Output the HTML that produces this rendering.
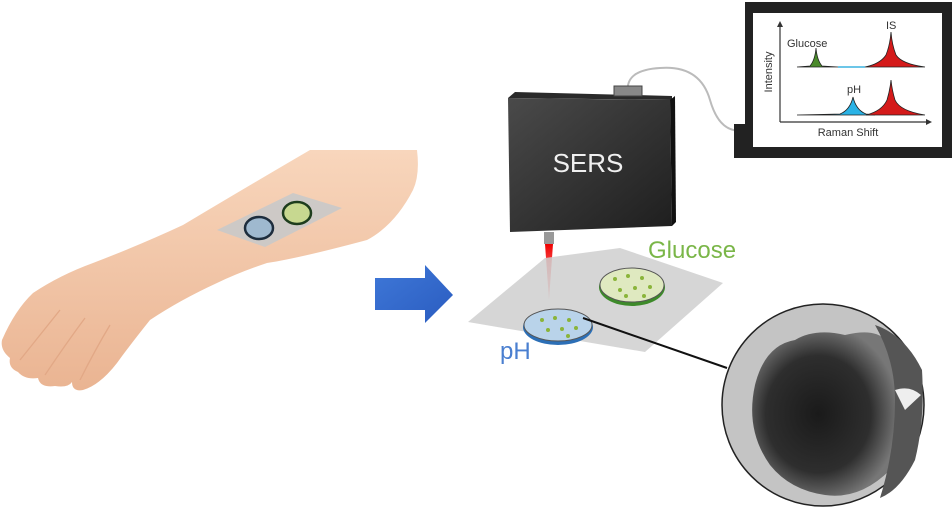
<!DOCTYPE html>
<html><head><style>
html,body{margin:0;padding:0;background:#fff;}
svg{display:block;font-family:"Liberation Sans",Arial,sans-serif;}
</style></head><body>
<svg width="952" height="509" viewBox="0 0 952 509" xmlns="http://www.w3.org/2000/svg">
<defs>
<linearGradient id="skin" x1="0" y1="0" x2="0" y2="1">
<stop offset="0" stop-color="#f8d6bc"/><stop offset="1" stop-color="#eab492"/></linearGradient>
<linearGradient id="box" x1="0" y1="0" x2="1" y2="1">
<stop offset="0" stop-color="#4a4a4a"/><stop offset="1" stop-color="#1e1e1e"/></linearGradient>
<linearGradient id="beam" x1="0" y1="0" x2="0" y2="1">
<stop offset="0" stop-color="#e00"/><stop offset="1" stop-color="#f66" stop-opacity="0.6"/></linearGradient>
<radialGradient id="tem" cx="0.45" cy="0.5" r="0.55">
<stop offset="0" stop-color="#1a1a1a"/><stop offset="0.65" stop-color="#2e2e2e"/><stop offset="1" stop-color="#777"/></radialGradient>
<linearGradient id="arrow" x1="0" y1="0" x2="1" y2="1">
<stop offset="0" stop-color="#3f78d8"/><stop offset="1" stop-color="#2a5cc0"/></linearGradient>
</defs>

<!-- arm -->
<path d="M310,150 L417,150 Q420,175 413,190 Q395,225 367,240 Q300,258 267,263 Q240,272 217,283 Q180,300 150,320 Q130,345 117,363 Q100,385 83,390 Q72,392 72,382 Q68,388 55,386 Q40,388 38,378 Q25,380 18,372 Q8,368 10,358 Q0,350 2,340 Q15,310 33,293 Q60,275 93,263 Q140,245 183,225 Q250,185 310,150 Z" fill="url(#skin)"/>
<path d="M110,325 Q95,350 80,380" stroke="#e2a886" fill="none" stroke-width="1.3"/>
<path d="M85,318 Q65,345 45,375" stroke="#e2a886" fill="none" stroke-width="1.3"/>
<path d="M60,310 Q40,335 20,360" stroke="#e2a886" fill="none" stroke-width="1.3"/>
<!-- patch -->
<polygon points="217,230 293,193 342,208 265,247" fill="#c9c9c9" opacity="0.9"/>
<ellipse cx="259" cy="228" rx="14" ry="11" fill="#9fb9cf" stroke="#1d2d3d" stroke-width="2.5"/>
<ellipse cx="297" cy="213" rx="14" ry="11" fill="#c7d890" stroke="#1d3d1d" stroke-width="2.5"/>

<!-- blue arrow -->
<polygon points="375,278 425,278 425,265 453,295 425,323 425,310 375,310" fill="url(#arrow)"/>

<!-- cable -->
<path d="M628,92 Q625,70 660,68 Q700,65 710,100 Q720,135 745,130" stroke="#bbb" stroke-width="2" fill="none"/>

<!-- SERS box -->
<polygon points="508,98 515,92 672,96 672,100" fill="#2a2a2a"/>
<rect x="614" y="86" width="28" height="10" fill="#888" stroke="#444"/>
<polygon points="508,98 670,100 672,226 510,232" fill="url(#box)"/>
<polygon points="670,100 675,96 676,222 672,226" fill="#111"/>
<text x="588" y="172" font-size="26" fill="#f0f0f0" text-anchor="middle">SERS</text>
<rect x="544" y="232" width="10" height="12" fill="#999"/>
<polygon points="545,244 553,244 549,300" fill="url(#beam)"/>

<!-- substrate -->
<polygon points="545,258 620,248 723,283 645,352 468,322" fill="#cfcfcf" opacity="0.85"/>
<ellipse cx="632" cy="287" rx="33" ry="19" fill="#3d8a2a"/>
<ellipse cx="632" cy="285" rx="32" ry="17" fill="#dfe9c0" stroke="#555" stroke-width="1"/>
<ellipse cx="558" cy="327" rx="35" ry="18" fill="#2c6fb6"/>
<ellipse cx="558" cy="325" rx="34" ry="16" fill="#b9d3ea" stroke="#555" stroke-width="1"/>
<g fill="#8ab43a">
<circle cx="615" cy="279" r="2"/><circle cx="628" cy="276" r="2"/><circle cx="642" cy="278" r="2"/><circle cx="620" cy="290" r="2"/><circle cx="635" cy="288" r="2"/><circle cx="650" cy="287" r="2"/><circle cx="626" cy="296" r="2"/><circle cx="644" cy="296" r="2"/>
<circle cx="542" cy="320" r="2"/><circle cx="555" cy="318" r="2"/><circle cx="569" cy="320" r="2"/><circle cx="548" cy="330" r="2"/><circle cx="562" cy="329" r="2"/><circle cx="576" cy="328" r="2"/><circle cx="568" cy="336" r="2"/>
</g>
<text x="648" y="258" font-size="24" fill="#7ab648">Glucose</text>
<text x="500" y="359" font-size="24" fill="#4a7fd0">pH</text>

<!-- line to TEM -->
<line x1="583" y1="318" x2="727" y2="368" stroke="#111" stroke-width="2"/>
<!-- TEM -->
<circle cx="823" cy="405" r="101" fill="#c4c4c4" stroke="#222" stroke-width="1.5"/>
<path d="M755,385 Q765,345 795,340 Q815,328 845,335 Q875,328 885,340 Q900,360 895,400 Q905,440 890,470 Q860,500 825,495 Q790,490 770,465 Q745,430 755,385 Z" fill="url(#tem)"/>
<path d="M875,325 Q905,335 922,370 Q925,420 915,460 Q900,490 880,498 Q895,450 895,400 Q895,360 875,325 Z" fill="#555"/>
<path d="M895,390 Q910,385 921,395 L905,410 Z" fill="#eee"/>

<!-- monitor -->
<rect x="745" y="2" width="207" height="156" fill="#222"/>
<rect x="734" y="124" width="14" height="34" fill="#222"/>
<rect x="753" y="13" width="189" height="134" fill="#fff"/>
<line x1="780" y1="122" x2="780" y2="25" stroke="#333" stroke-width="1.2"/>
<polygon points="777,27 783,27 780,21" fill="#333"/>
<line x1="780" y1="122" x2="928" y2="122" stroke="#333" stroke-width="1.2"/>
<polygon points="926,119 926,125 932,122" fill="#333"/>
<path d="M797,67 L810,66 Q815,60 816,48 Q817,60 822,66 L838,67 Z" fill="#4a8a2a" stroke="#222" stroke-width="0.8"/>
<line x1="838" y1="67" x2="865" y2="67" stroke="#3bb3e0" stroke-width="1.5"/>
<path d="M865,67 Q880,64 886,55 Q890,45 891,32 Q892,45 896,55 Q902,64 925,67 Z" fill="#d41a1a" stroke="#222" stroke-width="0.8"/>
<path d="M797,115 L840,114 Q850,110 853,97 Q856,110 866,114 L875,115 Z" fill="#2ab3e6" stroke="#222" stroke-width="0.8"/>
<path d="M866,115 Q882,111 887,100 Q890,90 891,80 Q892,90 895,100 Q900,111 925,115 Z" fill="#d41a1a" stroke="#222" stroke-width="0.8"/>
<text x="787" y="47" font-size="11" fill="#333">Glucose</text>
<text x="886" y="29" font-size="11" fill="#333">IS</text>
<text x="847" y="93" font-size="11" fill="#333">pH</text>
<text x="848" y="136" font-size="11" fill="#333" text-anchor="middle">Raman Shift</text>
<text transform="translate(772,72) rotate(-90)" font-size="11" fill="#333" text-anchor="middle">Intensity</text>
</svg>
</body></html>
